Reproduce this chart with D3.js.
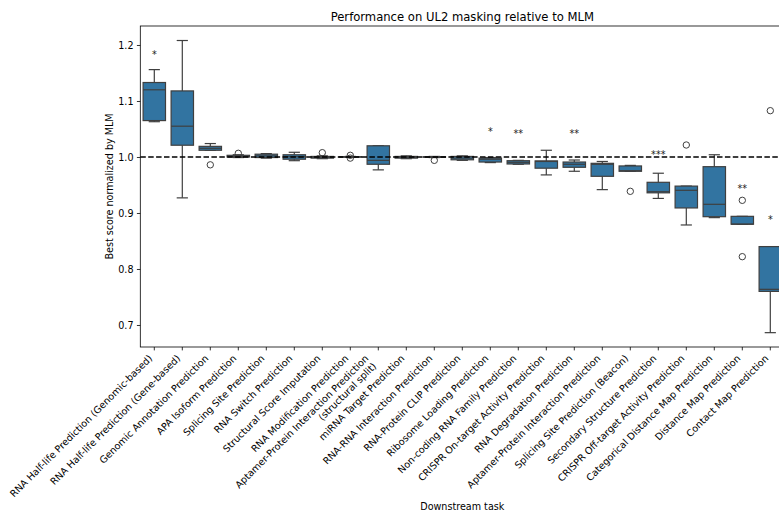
<!DOCTYPE html>
<html>
<head>
<meta charset="utf-8">
<script src="https://cdn.jsdelivr.net/npm/d3@7"></script>
<style>
  html, body { margin: 0; padding: 0; background: #fff; }
  svg { display: block; font-family: "DejaVu Sans", sans-serif; }
</style>
</head>
<body>
<svg id="chart" width="779" height="512"></svg>
<script>
// Downstream tasks, in plotting order
const categories = [
  "RNA Half-life Prediction (Genomic-based)",
  "RNA Half-life Prediction (Gene-based)",
  "Genomic Annotation Prediction",
  "APA Isoform Prediction",
  "Splicing Site Prediction",
  "RNA Switch Prediction",
  "Structural Score Imputation",
  "RNA Modification Prediction",
  "Aptamer-Protein Interaction Prediction\n(structural split)",
  "miRNA Target Prediction",
  "RNA-RNA Interaction Prediction",
  "RNA-Protein CLIP Prediction",
  "Ribosome Loading Prediction",
  "Non-coding RNA Family Prediction",
  "CRISPR On-target Activity Prediction",
  "RNA Degradation Prediction",
  "Aptamer-Protein Interaction Prediction",
  "Splicing Site Prediction (Beacon)",
  "Secondary Structure Prediction",
  "CRISPR Off-target Activity Prediction",
  "Categorical Distance Map Prediction",
  "Distance Map Prediction",
  "Contact Map Prediction"
];

// Box summaries of the normalized best score: lower whisker, Q1, median, Q3, upper whisker
const whiskerLow = [1.063, 0.927, 1.012, 0.999, 0.998, 0.9934, 0.997, 0.9995, 0.977, 0.997, 0.999, 0.994,
                    0.990, 0.987, 0.968, 0.9745, 0.9417, 0.9745, 0.926, 0.8786, 0.8917, 0.880, 0.6863];
const q1         = [1.065, 1.021, 1.012, 1.000, 0.999, 0.996, 0.998, 0.9998, 0.987, 0.998, 0.9995, 0.995,
                    0.991, 0.9875, 0.980, 0.9816, 0.9655, 0.9745, 0.936, 0.909, 0.8934, 0.880, 0.760];
const median     = [1.120, 1.055, 1.0155, 1.001, 1.002, 1.0005, 0.9995, 1.000, 0.994, 0.9995, 1.000, 0.998,
                    0.996, 0.9905, 0.992, 0.987, 0.987, 0.9755, 0.938, 0.9405, 0.9155, 0.880, 0.7637];
const q3         = [1.133, 1.118, 1.019, 1.003, 1.005, 1.004, 1.001, 1.0005, 1.020, 1.001, 1.0005, 1.001,
                    0.998, 0.9934, 0.993, 0.991, 0.9887, 0.984, 0.9548, 0.948, 0.9827, 0.894, 0.840];
const whiskerHigh= [1.156, 1.208, 1.024, 1.004, 1.006, 1.0084, 1.002, 1.001, 1.020, 1.002, 1.001, 1.002,
                    0.999, 0.994, 1.012, 0.9946, 0.992, 0.985, 0.971, 0.948, 1.004, 0.894, 0.840];

// Points beyond the whiskers, by task index
const outlierTask  = [2, 3, 6, 7, 7, 10, 17, 19, 21, 21, 22];
const outlierValue = [0.986, 1.0066, 1.0077, 1.003, 0.998, 0.994, 0.9387, 1.0214, 0.9226, 0.822, 1.0827];

// Significance markers, by task index
const sigTask  = [0, 12, 13, 15, 18, 21, 22];
const sigLabel = ["*", "*", "**", "**", "***", "**", "*"];
const sigValue = [1.1875, 1.050, 1.046, 1.045, 1.0084, 0.948, 0.893];

// Y axis ticks
const yTicks = [0.7, 0.8, 0.9, 1.0, 1.1, 1.2];
const baselineValue = 1.0;

const svg = d3.select("#chart");
const plot = { left: 140.3, right: 784.3, top: 26, bottom: 347 };

const x = d3.scaleBand().domain(d3.range(categories.length))
  .range([plot.left, plot.right]).paddingInner(0).paddingOuter(0);
const y = d3.scaleLinear().domain([0.6607, 1.2339]).range([plot.bottom, plot.top]);

const boxFill = "#3274a1";
const lineColor = "#3f3f3f";
const boxW = x.bandwidth() * 0.8;
const capW = boxW * 0.5;
const fs = 9.6;

const boxes = categories.map((c, i) => ({
  i, lo: whiskerLow[i], q1: q1[i], med: median[i], q3: q3[i], hi: whiskerHigh[i]
}));

const g = svg.append("g");

const box = g.selectAll("g.box").data(boxes).join("g").attr("class", "box")
  .attr("transform", d => `translate(${x(d.i) + x.bandwidth() / 2},0)`);

// whiskers
box.append("line").attr("x1", 0).attr("x2", 0)
  .attr("y1", d => y(d.q3)).attr("y2", d => y(d.hi))
  .attr("stroke", lineColor).attr("stroke-width", 1.2);
box.append("line").attr("x1", 0).attr("x2", 0)
  .attr("y1", d => y(d.q1)).attr("y2", d => y(d.lo))
  .attr("stroke", lineColor).attr("stroke-width", 1.2);
// caps
box.append("line").attr("x1", -capW / 2).attr("x2", capW / 2)
  .attr("y1", d => y(d.hi)).attr("y2", d => y(d.hi))
  .attr("stroke", lineColor).attr("stroke-width", 1.2);
box.append("line").attr("x1", -capW / 2).attr("x2", capW / 2)
  .attr("y1", d => y(d.lo)).attr("y2", d => y(d.lo))
  .attr("stroke", lineColor).attr("stroke-width", 1.2);
// box body
box.append("rect").attr("x", -boxW / 2).attr("width", boxW)
  .attr("y", d => y(d.q3)).attr("height", d => Math.max(0.1, y(d.q1) - y(d.q3)))
  .attr("fill", boxFill).attr("stroke", lineColor).attr("stroke-width", 1.2);
// median
box.append("line").attr("x1", -boxW / 2).attr("x2", boxW / 2)
  .attr("y1", d => y(d.med)).attr("y2", d => y(d.med))
  .attr("stroke", lineColor).attr("stroke-width", 1.2);

// outliers
g.selectAll("circle.flier").data(outlierTask.map((t, k) => ({ t, v: outlierValue[k] })))
  .join("circle").attr("class", "flier")
  .attr("cx", d => x(d.t) + x.bandwidth() / 2).attr("cy", d => y(d.v))
  .attr("r", 3.2).attr("fill", "none").attr("stroke", lineColor).attr("stroke-width", 1);

// reference line at 1.0
g.append("line").attr("x1", plot.left).attr("x2", plot.right)
  .attr("y1", y(baselineValue)).attr("y2", y(baselineValue))
  .attr("stroke", "#000").attr("stroke-width", 1.5).attr("stroke-dasharray", "5.5,2.4");

// significance markers
g.selectAll("text.sig").data(sigTask.map((t, k) => ({ t, s: sigLabel[k], v: sigValue[k] })))
  .join("text").attr("class", "sig")
  .attr("x", d => x(d.t) + x.bandwidth() / 2).attr("y", d => y(d.v) + fs * 0.59)
  .attr("text-anchor", "middle").attr("font-size", fs).attr("fill", "#222")
  .text(d => d.s);

// frame
svg.append("rect").attr("x", plot.left).attr("y", plot.top)
  .attr("width", plot.right - plot.left).attr("height", plot.bottom - plot.top)
  .attr("fill", "none").attr("stroke", "#000").attr("stroke-width", 0.8);

// y axis
const yAxis = svg.append("g").attr("transform", `translate(${plot.left},0)`)
  .call(d3.axisLeft(y).tickValues(yTicks).tickFormat(d3.format(".1f")).tickSizeOuter(0).tickSize(3.4).tickPadding(3.4));
yAxis.select(".domain").remove();
yAxis.selectAll(".tick line").attr("stroke", "#000").attr("stroke-width", 0.8);
yAxis.selectAll(".tick text").attr("font-size", fs).attr("fill", "#000")
  .attr("font-family", "DejaVu Sans");

// x axis ticks
const xAxis = svg.append("g").attr("transform", `translate(0,${plot.bottom})`)
  .call(d3.axisBottom(x).tickSize(3.4).tickFormat(""));
xAxis.select(".domain").remove();
xAxis.selectAll(".tick line").attr("stroke", "#000").attr("stroke-width", 0.8);

// rotated tick labels, right end at tick
const asc = 0.76 * fs, desc = 0.2 * fs, lineH = 11;
const y0 = plot.bottom + 3.4 + 3.4;
categories.forEach((c, i) => {
  const lines = c.split("\n");
  const extra = (lines.length - 1) * lineH;
  const cx = x(i) + x.bandwidth() / 2;
  const ax = cx - 0.7071 * (extra + desc);
  const ay = y0 + 0.7071 * asc;
  const t = svg.append("g").attr("transform", `translate(${ax},${ay}) rotate(-45)`);
  lines.forEach((ln, k) => {
    t.append("text").attr("x", 0).attr("y", k * lineH)
      .attr("text-anchor", "end").attr("font-size", fs).attr("fill", "#000").text(ln);
  });
});

// titles
svg.append("text").attr("x", (plot.left + plot.right) / 2).attr("y", 20.5)
  .attr("text-anchor", "middle").attr("font-size", 11.6).attr("fill", "#000")
  .text("Performance on UL2 masking relative to MLM");
svg.append("text").attr("transform", `translate(112.5,${(plot.top + plot.bottom) / 2}) rotate(-90)`)
  .attr("text-anchor", "middle").attr("font-size", fs).attr("fill", "#000")
  .text("Best score normalized by MLM");
svg.append("text").attr("x", (plot.left + plot.right) / 2).attr("y", 509.5)
  .attr("text-anchor", "middle").attr("font-size", fs).attr("fill", "#000")
  .text("Downstream task");
</script>
</body>
</html>
